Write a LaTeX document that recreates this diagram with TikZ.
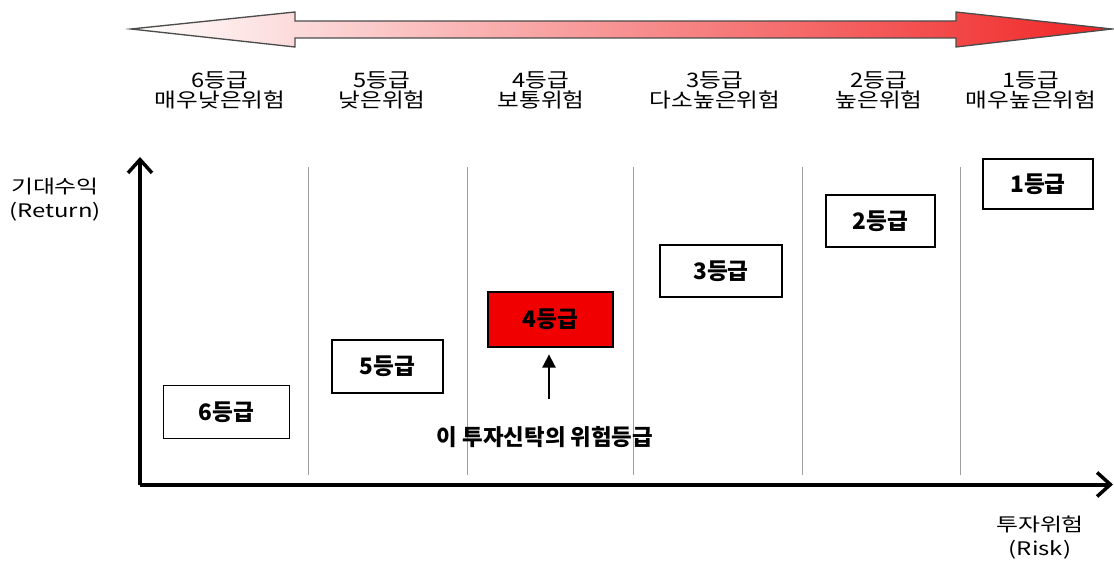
\documentclass[tikz,border=0pt]{standalone}
\usepackage{fontspec}
\setmainfont{Noto Sans CJK KR}
\usetikzlibrary{arrows.meta,calc}
\definecolor{arrred}{RGB}{240,36,36}
\definecolor{boxred}{RGB}{240,0,0}
\tikzset{
  toplbl/.style={align=center,font=\fontsize{15}{17}\selectfont,inner sep=0pt},
  gradebox/.style={draw=black,line width=1.1pt,minimum width=#1*0.75pt,font=\fontsize{17}{19}\selectfont\bfseries,inner sep=0pt},
  sepline/.style={draw=gray!75,line width=0.7pt},
  axis/.style={line width=3pt,-{Straight Barb[length=10pt,width=18pt,line width=2.6pt]}},
  axlbl/.style={align=center,font=\fontsize{14}{17}\selectfont,inner sep=0pt}
}
\newcommand{\hs}[1]{\scalebox{1.18}[1]{#1}}
\newcommand{\hw}[1]{\scalebox{1.28}[1]{#1}}
\begin{document}
\begin{tikzpicture}[x=0.75pt,y=-0.75pt]
\useasboundingbox (0,0) rectangle (1114,570);
% top double arrow
\path[left color=white,right color=arrred,draw=black!70,line width=1pt]
  (131,29) -- (295,12) -- (295,21) -- (956,21) -- (956,12) -- (1112,29)
  -- (956,47) -- (956,38) -- (295,38) -- (295,47) -- cycle;
% top labels
\node[toplbl] (t6) at (220,90) {\hs{6등급}\\[-2pt]\hs{매우낮은위험}};
\node[toplbl] (t5) at (382,90) {\hs{5등급}\\[-2pt]\hs{낮은위험}};
\node[toplbl] (t4) at (541,90) {\hs{4등급}\\[-2pt]\hs{보통위험}};
\node[toplbl] (t3) at (715,90) {\hs{3등급}\\[-2pt]\hs{다소높은위험}};
\node[toplbl] (t2) at (879,90) {\hs{2등급}\\[-2pt]\hs{높은위험}};
\node[toplbl] (t1) at (1031,90) {\hs{1등급}\\[-2pt]\hs{매우높은위험}};
% separators
\foreach \x in {308,467,633,802,960}
  \draw[sepline] (\x,167) -- (\x,475);
% axes
\coordinate (O) at (140,484.5);
\coordinate (ytip) at (140,157);
\coordinate (xtip) at (1113,484.5);
\draw[axis] (O) -- (ytip);
\draw[axis] (O) -- (xtip);
\node[axlbl] (ylbl) at (55,200) {\hw{기대수익}\\[1pt]\hw{(Return)}};
\node[axlbl] (xlbl) at (1040,538) {\hw{투자위험}\\[1pt]\hw{(Risk)}};
% grade boxes
\node[gradebox=126,minimum height=53*0.75pt] (b6) at (226.5,412) {6등급};
\node[gradebox=111,minimum height=53*0.75pt] (b5) at (387.5,366.5) {5등급};
\node[gradebox=125,minimum height=55*0.75pt,fill=boxred] (b4) at (550.5,319.5) {4등급};
\node[gradebox=122,minimum height=52*0.75pt] (b3) at (721,271) {3등급};
\node[gradebox=109,minimum height=52*0.75pt] (b2) at (880.5,221) {2등급};
\node[gradebox=110,minimum height=50*0.75pt] (b1) at (1038,184) {1등급};
% current grade label and arrow
\node[font=\fontsize{16.8}{18}\selectfont\bfseries,inner sep=0pt] (cur) at (545,437) {이 투자신탁의 위험등급};
\coordinate (arrS) at (549,399);
\draw[line width=1.3pt,-{Triangle[length=10pt,width=10pt]},shorten >=5pt] (arrS) -- (arrS |- b4.south);
\end{tikzpicture}
\end{document}
